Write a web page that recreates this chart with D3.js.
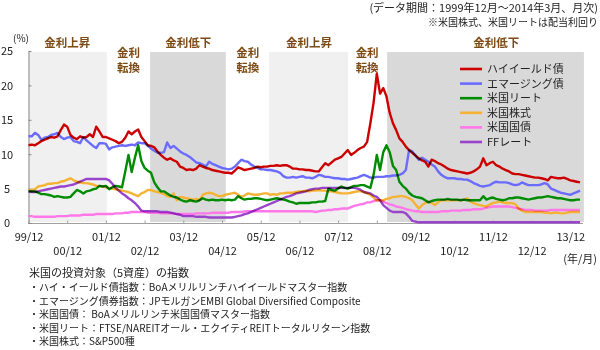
<!DOCTYPE html>
<html>
<head>
<meta charset="utf-8">
<script src="https://cdnjs.cloudflare.com/ajax/libs/d3/7.8.5/d3.min.js"></script>
<style>
  body { margin: 0; background: #fff; }
  svg { font-family: "Noto Sans CJK JP", "Noto Sans", sans-serif; }
</style>
</head>
<body>
<div id="chart"></div>
<script>
// データ: 1999年12月〜2014年3月 (月次, 172点)
const highYield = [
  11.3, 11.4, 11.3, 11.6, 11.9, 12.1, 12.3, 12.5, 12.4, 12.6, 13.5, 14.3,
  14.0, 12.8, 12.4, 12.2, 12.6, 12.4, 12.5, 12.9, 12.5, 14.0, 13.3, 12.5,
  12.5, 12.3, 12.1, 11.9, 11.6, 11.8, 12.4, 13.3, 12.9, 13.3, 13.6, 12.5,
  11.9, 11.3, 11.2, 11.0, 10.4, 9.9, 9.5, 9.2, 9.4, 9.1, 8.9, 8.2,
  8.0, 7.7, 7.8, 7.7, 7.9, 8.4, 8.2, 8.0, 7.9, 7.7, 7.6, 7.5,
  7.4, 7.3, 7.3, 7.2, 7.6, 8.1, 7.9, 7.7, 7.8, 7.9, 8.0, 8.2,
  8.1, 8.2, 8.2, 8.3, 8.3, 8.4, 8.3, 8.4, 8.4, 8.2, 7.9, 7.9,
  7.8, 7.8, 7.7, 7.7, 7.6, 7.5, 7.5, 8.1, 8.7, 8.4, 8.8, 9.2,
  9.4, 9.6, 10.1, 10.6, 9.9, 10.2, 10.6, 10.9, 11.1, 11.8, 14.5, 17.5,
  21.7, 18.8, 19.6, 18.4, 16.0, 14.5, 13.5, 12.3, 11.8, 11.1, 10.6, 10.2,
  9.8, 9.4, 9.1, 8.9, 8.2, 9.2, 9.0, 8.7, 8.5, 8.2, 7.9, 7.7,
  7.6, 7.5, 7.4, 7.3, 7.2, 7.3, 7.5, 7.8, 8.2, 9.4, 8.4, 8.7,
  8.9, 8.4, 8.2, 7.9, 7.7, 7.5, 7.2, 7.1, 7.1, 7.0, 6.9, 6.8,
  6.7, 6.6, 6.6, 6.5, 6.4, 6.2, 6.7, 6.6, 6.5, 6.5, 6.6, 6.4,
  6.2, 6.1, 6.0, 5.9
];
const emerging = [
  12.6, 12.6, 13.1, 12.8, 12.1, 12.4, 12.5, 12.8, 12.9, 13.1, 12.5, 12.2,
  12.4, 12.5, 11.9, 11.8, 11.6, 12.5, 12.0, 11.6, 11.2, 10.9, 11.6, 11.6,
  11.5, 10.7, 11.0, 11.1, 11.2, 11.3, 11.2, 11.3, 11.4, 11.3, 11.7, 11.6,
  11.6, 11.2, 10.8, 10.5, 10.2, 10.2, 10.3, 11.7, 10.9, 11.2, 10.8, 10.4,
  10.1, 9.9, 9.6, 9.2, 8.8, 8.7, 8.5, 8.2, 8.9, 8.6, 8.4, 8.2,
  8.0, 7.9, 7.8, 7.9, 8.2, 8.7, 9.2, 9.0, 8.9, 8.5, 8.2, 8.0,
  7.8, 7.8, 7.7, 7.7, 7.6, 7.5, 7.3, 6.8, 6.6, 6.6, 6.7, 6.6,
  6.7, 6.8, 6.6, 6.6, 6.5, 6.7, 7.0, 6.9, 6.7, 6.7, 6.6, 6.5,
  6.5, 6.4, 6.4, 6.3, 6.4, 6.5, 6.6, 6.8, 7.0, 6.8, 6.6, 6.6,
  6.7, 6.7, 6.7, 6.8, 6.8, 6.9, 6.9, 7.0, 7.2, 7.7, 10.6, 10.4,
  9.8, 9.2, 9.5, 9.2, 8.9, 8.5, 8.2, 7.5, 7.0, 6.7, 6.5, 6.5,
  6.5, 6.4, 6.4, 6.3, 6.3, 6.1, 5.8, 5.6, 5.4, 5.3, 5.4, 5.5,
  5.8, 6.0, 5.9, 5.9, 5.9, 5.8, 5.6, 5.5, 5.6, 5.9, 5.7, 5.5,
  5.5, 5.5, 5.5, 5.6, 5.8, 5.6, 5.0, 4.8, 4.6, 4.4, 4.3, 4.2,
  4.1, 4.3, 4.5, 4.7
];
const reit = [
  4.6, 4.6, 4.6, 4.4, 4.2, 4.2, 4.1, 4.0, 3.8, 3.9, 3.8, 3.7,
  3.7, 3.8, 4.3, 4.8, 4.6, 4.3, 4.6, 4.7, 4.9, 5.0, 5.4, 5.3,
  5.4, 4.9, 5.2, 5.4, 5.3, 5.2, 7.5, 9.9, 7.4, 9.5, 11.3, 9.0,
  8.0, 7.6, 7.3, 5.9, 5.2, 4.6, 4.6, 4.3, 4.0, 3.8, 3.7, 3.4,
  3.2, 3.1, 3.3, 3.2, 3.1, 3.3, 3.6, 3.4, 3.3, 3.4, 3.3, 3.3,
  3.4, 3.3, 3.4, 3.3, 3.4, 3.9, 3.6, 3.4, 3.5, 3.5, 3.6, 3.6,
  3.5, 3.4, 3.3, 3.4, 3.5, 3.6, 3.5, 3.4, 3.3, 3.1, 3.0, 2.8,
  2.9, 2.9, 2.9, 2.9, 3.0, 3.0, 3.1, 3.1, 3.2, 5.0, 4.8, 4.7,
  5.0, 5.3, 5.1, 5.0, 5.2, 5.4, 5.4, 5.5, 5.5, 5.3, 5.1, 7.0,
  9.9, 7.7, 10.3, 11.3, 10.3, 8.3, 7.7, 6.0, 5.4, 5.0, 4.4, 4.0,
  3.8, 3.7, 3.6, 3.3, 3.0, 3.2, 3.3, 3.4, 3.4, 3.4, 3.5, 3.4,
  3.4, 3.4, 3.3, 3.4, 3.3, 3.3, 3.3, 3.3, 3.3, 3.9, 3.4, 3.6,
  3.7, 3.5, 3.4, 3.3, 3.4, 3.6, 3.6, 3.7, 3.7, 3.6, 3.5, 3.4,
  3.5, 3.6, 3.7, 3.7, 3.8, 3.9, 3.8, 3.7, 3.6, 3.6, 3.5, 3.4,
  3.3, 3.3, 3.4, 3.4
];
const stocks = [
  4.7, 4.8, 4.9, 5.3, 5.4, 5.5, 5.7, 5.7, 5.8, 5.8, 6.0, 6.1,
  6.3, 6.5, 6.2, 6.0, 5.9, 5.8, 5.8, 5.7, 5.6, 5.4, 5.4, 5.3,
  5.2, 5.1, 5.0, 4.9, 4.8, 4.7, 4.6, 4.5, 4.3, 4.1, 3.9, 4.3,
  4.5, 4.8, 4.8, 4.6, 4.5, 4.4, 4.2, 3.9, 3.8, 4.3, 3.3, 3.8,
  3.7, 3.6, 3.5, 3.4, 3.5, 3.3, 4.1, 4.3, 4.4, 4.3, 4.1, 3.9,
  3.9, 4.1, 4.2, 4.3, 4.4, 4.1, 3.8, 4.0, 4.3, 4.2, 4.1, 4.1,
  4.2, 4.3, 4.3, 4.1, 4.2, 4.1, 4.3, 4.3, 4.4, 4.4, 4.4, 4.5,
  4.6, 4.6, 4.7, 4.6, 4.7, 4.7, 4.8, 4.7, 4.7, 4.6, 4.6, 4.5,
  4.4, 4.3, 4.3, 4.3, 4.4, 4.5, 4.6, 4.6, 4.5, 4.3, 4.1, 3.7,
  3.3, 3.3, 3.3, 3.5, 3.6, 3.8, 3.8, 3.9, 3.9, 3.8, 3.6, 3.3,
  2.7, 2.1, 2.6, 2.9, 3.1, 2.9, 2.6, 3.0, 3.3, 3.3, 3.3, 3.3,
  3.3, 3.3, 3.3, 3.4, 3.6, 3.1, 2.9, 2.7, 2.6, 2.5, 2.4, 2.7,
  2.9, 3.0, 3.1, 3.0, 2.9, 2.9, 2.9, 2.7, 2.1, 1.8, 1.6, 1.6,
  1.6, 1.6, 1.6, 1.6, 1.5, 1.5, 1.4, 1.5, 1.5, 1.4, 1.4, 1.5,
  1.6, 1.6, 1.6, 1.6
];
const treasury = [
  1.0, 1.0, 0.9, 0.9, 0.9, 0.9, 0.9, 0.9, 0.9, 1.0, 1.0, 1.0,
  1.0, 1.1, 1.1, 1.1, 1.1, 1.2, 1.2, 1.2, 1.2, 1.3, 1.3, 1.3,
  1.3, 1.3, 1.3, 1.4, 1.4, 1.4, 1.5, 1.5, 1.6, 1.6, 1.6, 1.6,
  1.6, 1.5, 1.5, 1.5, 1.5, 1.4, 1.4, 1.4, 1.4, 1.4, 1.3, 1.3,
  1.3, 1.3, 1.3, 1.3, 1.4, 1.4, 1.4, 1.4, 1.4, 1.5, 1.5, 1.5,
  1.5, 1.5, 1.5, 1.6, 1.6, 1.6, 1.6, 1.7, 1.7, 1.7, 1.7, 1.7,
  1.7, 1.7, 1.7, 1.7, 1.7, 1.7, 1.7, 1.7, 1.7, 1.7, 1.7, 1.7,
  1.7, 1.7, 1.7, 1.7, 1.7, 1.6, 1.7, 1.8, 1.8, 1.9, 1.9, 2.0,
  2.0, 2.1, 2.1, 2.1, 2.3, 2.5, 2.6, 2.7, 2.8, 3.0, 3.0, 3.2,
  3.3, 3.3, 3.1, 2.9, 2.7, 2.6, 2.4, 2.3, 2.2, 2.0, 1.9, 1.8,
  1.7, 1.7, 1.6, 1.6, 1.6, 1.6, 1.6, 1.6, 1.7, 1.7, 1.7, 1.8,
  1.8, 1.8, 1.8, 1.9, 1.9, 1.9, 2.0, 2.0, 2.0, 2.1, 2.2, 2.3,
  2.4, 2.4, 2.4, 2.4, 2.4, 2.4, 2.3, 2.2, 2.1, 2.0, 1.9, 1.9,
  1.9, 1.8, 1.8, 1.8, 1.8, 1.8, 1.9, 1.9, 1.9, 1.9, 1.9, 1.9,
  1.9, 1.9, 1.9, 1.9
];
const ffRate = [
  4.6, 4.5, 4.5, 4.6, 4.7, 4.8, 4.9, 5.0, 5.1, 5.2, 5.3, 5.3,
  5.4, 5.5, 5.6, 5.8, 6.0, 6.2, 6.4, 6.4, 6.4, 6.4, 6.4, 6.4,
  6.4, 6.2, 5.7, 5.1, 4.7, 4.3, 4.0, 3.6, 3.3, 2.9, 2.4, 1.8,
  1.7, 1.7, 1.7, 1.7, 1.7, 1.6, 1.6, 1.6, 1.5, 1.4, 1.3, 1.2,
  1.0, 1.0, 1.0, 1.0, 0.9, 0.9, 0.9, 0.9, 0.8, 0.8, 0.8, 0.8,
  0.8, 0.8, 0.8, 0.8, 0.9, 1.0, 1.1, 1.3, 1.4, 1.6, 1.8, 2.0,
  2.2, 2.4, 2.6, 2.8, 3.0, 3.2, 3.4, 3.6, 3.8, 3.9, 4.1, 4.3,
  4.4, 4.5, 4.6, 4.8, 4.9, 5.0, 5.0, 5.1, 5.1, 5.1, 5.1, 5.1,
  5.1, 5.1, 5.1, 5.1, 5.1, 5.1, 5.0, 4.8, 4.5, 4.4, 4.3, 4.0,
  3.8, 3.3, 2.6, 2.2, 1.8, 1.6, 1.6, 1.6, 1.6, 1.4, 0.9, 0.3,
  0.2, 0.1, 0.1, 0.1, 0.1, 0.1, 0.1, 0.1, 0.1, 0.1, 0.1, 0.1,
  0.1, 0.1, 0.1, 0.1, 0.1, 0.1, 0.1, 0.1, 0.1, 0.1, 0.1, 0.1,
  0.1, 0.1, 0.1, 0.1, 0.1, 0.1, 0.1, 0.1, 0.1, 0.1, 0.1, 0.1,
  0.1, 0.1, 0.1, 0.1, 0.1, 0.1, 0.1, 0.1, 0.1, 0.1, 0.1, 0.1,
  0.1, 0.1, 0.1, 0.1
];

const seriesNames = ["ハイイールド債", "エマージング債", "米国リート", "米国株式", "米国国債", "FFレート"];
const seriesValues = [highYield, emerging, reit, stocks, treasury, ffRate];

// 目盛 (月インデックス: 0 = 1999/12)
const xTickMonths = [0, 12, 24, 36, 48, 60, 72, 84, 96, 108, 120, 132, 144, 156, 168];
const xTickLabels = ["99/12", "00/12", "01/12", "02/12", "03/12", "04/12", "05/12", "06/12",
                     "07/12", "08/12", "09/12", "10/12", "11/12", "12/12", "13/12"];
const yTicks = [0, 5, 10, 15, 20, 25];

// 金利局面 (開始・終了 月インデックス)
const phaseStart = [0, 24.3, 37.7, 61.2, 74.6, 99.1, 111.2];
const phaseEnd   = [24.3, 37.7, 61.2, 74.6, 99.1, 111.2, 172.2];
const phaseType  = ["up", "turn", "down", "turn", "up", "turn", "down"];
const phaseLabelAt = [12, 31, 49.5, 68, 87, 105, 145];
const phaseText = { up: ["金利上昇"], down: ["金利低下"], turn: ["金利", "転換"] };

const notes = [
  "米国の投資対象（5資産）の指数",
  "・ハイ・イールド債指数：BoAメリルリンチハイイールドマスター指数",
  "・エマージング債券指数：JPモルガンEMBI Global Diversified Composite",
  "・米国国債： BoAメリルリンチ米国国債マスター指数",
  "・米国リート：FTSE/NAREITオール・エクイティREITトータルリターン指数",
  "・米国株式：S&P500種"
];

// 1. 設定
const W = 600, H = 350;
const colors = ["#cc0000", "#6b6bff", "#008c00", "#f5b335", "#ff77e8", "#9a44cc"];
const phaseFill = { up: "#f0f0f0", down: "#d9d9d9", turn: "#ffffff" };
const brown = "#7d4c16";
const textColor = "#222";

const svg = d3.select("#chart").append("svg")
    .attr("width", W)
    .attr("height", H);

// 2. スケール
const x = d3.scaleLinear().domain([0, 171]).range([28.5, 580]);
const y = d3.scaleLinear().domain([0, 25]).range([223, 51]);

// 3. 背景の局面
const phases = phaseType.map((t, i) => ({ type: t, s: phaseStart[i], e: phaseEnd[i], at: phaseLabelAt[i] }));

svg.append("g").selectAll("rect")
    .data(phases)
    .enter()
    .append("rect")
    .attr("x", d => x(d.s))
    .attr("width", d => x(d.e) - x(d.s))
    .attr("y", 52)
    .attr("height", 170)
    .attr("fill", d => phaseFill[d.type]);

const pl = svg.append("g")
    .attr("fill", brown)
    .attr("font-size", 11.5)
    .attr("font-weight", "bold")
    .attr("text-anchor", "middle");

phases.forEach(d => {
    const lines = phaseText[d.type];
    lines.forEach((t, j) => {
        pl.append("text")
            .attr("x", x(d.at))
            .attr("y", lines.length === 1 ? 47 : 57 + j * 15)
            .text(t);
    });
});

// 4. 軸
const xAxis = svg.append("g")
    .attr("transform", "translate(0,223.5)")
    .call(d3.axisBottom(x)
        .tickValues(xTickMonths)
        .tickSize(-3)
        .tickSizeOuter(0)
        .tickFormat((d, i) => xTickLabels[i]));

xAxis.select(".domain").attr("stroke", "#a0a0a0").attr("d", `M${x(0)},0H583`);
xAxis.selectAll(".tick line").attr("stroke", "#a0a0a0");
xAxis.selectAll(".tick text")
    .attr("font-size", 11)
    .attr("font-family", "Noto Sans CJK JP, sans-serif")
    .attr("fill", textColor)
    .attr("dy", 0)
    .attr("y", (d, i) => i % 2 === 0 ? 17.5 : 31.5);

const yAxis = svg.append("g")
    .attr("transform", "translate(28.5,0)")
    .call(d3.axisLeft(y)
        .tickValues(yTicks)
        .tickSize(-3)
        .tickSizeOuter(0));

yAxis.select(".domain").attr("stroke", "#888");
yAxis.selectAll(".tick line").attr("stroke", "#888");
yAxis.selectAll(".tick text")
    .attr("font-size", 11)
    .attr("font-family", "Noto Sans CJK JP, sans-serif")
    .attr("fill", textColor)
    .attr("text-anchor", "middle")
    .attr("x", -21.5)
    .attr("dy", "0.35em");

svg.append("text")
    .attr("x", 21)
    .attr("y", 42)
    .attr("text-anchor", "middle")
    .attr("font-size", 10)
    .attr("fill", textColor)
    .text("(%)");

svg.append("text")
    .attr("x", 597)
    .attr("y", 263)
    .attr("text-anchor", "end")
    .attr("font-size", 11)
    .attr("fill", textColor)
    .text("(年/月)");

// 5. 線
const line = d3.line()
    .x((d, i) => x(i))
    .y(d => y(d));

const lineOrder = [4, 3, 5, 2, 1, 0];
svg.append("g")
    .style("isolation", "isolate")
    .selectAll("path")
    .data(lineOrder)
    .enter()
    .append("path")
    .attr("fill", "none")
    .attr("stroke", k => colors[k])
    .attr("stroke-width", 2.4)
    .attr("stroke-linejoin", "round")
    .style("mix-blend-mode", "multiply")
    .attr("d", k => line(seriesValues[k]));

// 6. 凡例
const legend = svg.selectAll(".legend")
    .data(seriesNames)
    .enter()
    .append("g")
    .attr("class", "legend")
    .attr("transform", (d, i) => `translate(460,${69 + i * 14.6})`);

legend.append("line")
    .attr("x1", 0)
    .attr("x2", 22)
    .attr("stroke", (d, i) => colors[i])
    .attr("stroke-width", 2.6);

legend.append("text")
    .attr("x", 27)
    .attr("dy", "0.36em")
    .attr("font-size", 11)
    .attr("fill", textColor)
    .text(d => d);

// 7. ヘッダー
svg.append("text")
    .attr("x", 598)
    .attr("y", 11.5)
    .attr("text-anchor", "end")
    .attr("font-size", 11)
    .attr("fill", textColor)
    .text("(データ期間：1999年12月～2014年3月、月次)");

svg.append("text")
    .attr("x", 598)
    .attr("y", 26)
    .attr("text-anchor", "end")
    .attr("font-size", 10)
    .attr("fill", textColor)
    .text("※米国株式、米国リートは配当利回り");

// 8. 注記
svg.append("g")
    .attr("fill", textColor)
    .selectAll("text")
    .data(notes)
    .enter()
    .append("text")
    .attr("x", 29)
    .attr("y", (d, i) => i === 0 ? 277 : 291 + (i - 1) * 13.5)
    .attr("font-size", (d, i) => i === 0 ? 11 : 10)
    .text(d => d);
</script>
</body>
</html>
